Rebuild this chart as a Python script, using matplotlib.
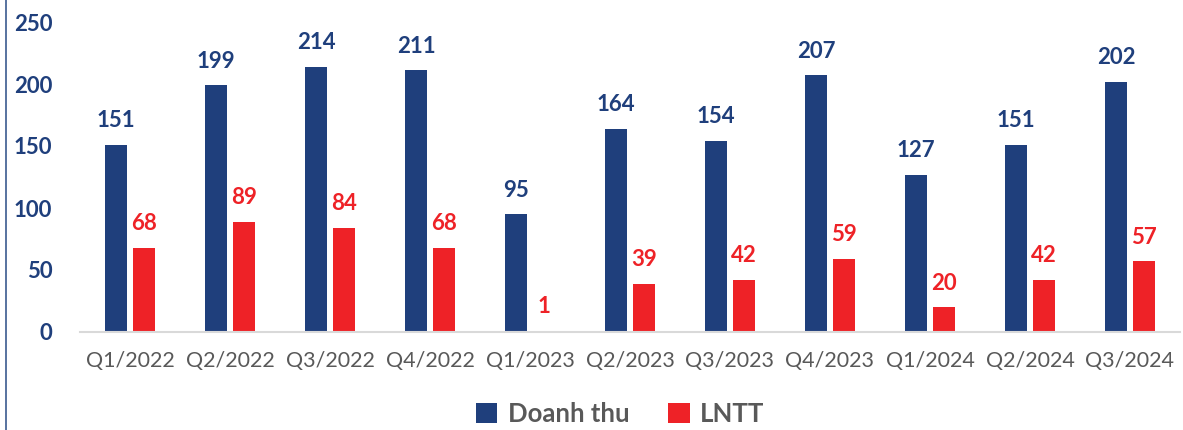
import numpy as np
import matplotlib.pyplot as plt
from matplotlib.lines import Line2D

plt.rcParams['font.family'] = ['Lato', 'DejaVu Sans']

quy = ["Q1/2022", "Q2/2022", "Q3/2022", "Q4/2022", "Q1/2023", "Q2/2023",
       "Q3/2023", "Q4/2023", "Q1/2024", "Q2/2024", "Q3/2024"]
doanh_thu = [151, 199, 214, 211, 95, 164, 154, 207, 127, 151, 202]
lntt = [68, 89, 84, 68, 1, 39, 42, 59, 20, 42, 57]

xanh = "#1F3F7C"
do = "#EE2227"
xam = "#595959"

fig = plt.figure(figsize=(11.83, 4.3), dpi=100)
ax = fig.add_axes([80/1183, 98/430, 1100/1183, 310/430])

x = np.arange(len(quy))
w = 0.22
b1 = ax.bar(x - 0.14, doanh_thu, w, color=xanh)
b2 = ax.bar(x + 0.14, lntt, w, color=do)

for r, v in zip(b1, doanh_thu):
    ax.text(r.get_x() + r.get_width()/2, v + 11, str(v), ha="center", va="bottom",
            color=xanh, fontsize=16, fontweight="bold")
for r, v in zip(b2, lntt):
    ax.text(r.get_x() + r.get_width()/2, v + 11, str(v), ha="center", va="bottom",
            color=do, fontsize=16, fontweight="bold")

ax.set_xlim(-0.5, len(quy) - 0.5)
ax.set_ylim(0, 250)
ax.set_yticks(range(0, 251, 50))
ax.set_xticks(x)
ax.set_xticklabels(quy, color=xam, fontsize=15.5)
for t in ax.get_yticklabels():
    t.set_color(xanh)
    t.set_fontweight("bold")
    t.set_fontsize(16)
ax.tick_params(length=0)
ax.tick_params(axis="x", pad=14)
ax.tick_params(axis="y", pad=20)
for s in ["top", "right", "left"]:
    ax.spines[s].set_visible(False)
ax.spines["bottom"].set_color("#D9D9D9")
ax.spines["bottom"].set_linewidth(1.5)

# duong vien ben trai
fig.add_artist(Line2D([6/1183, 6/1183], [0, 1], color="#3B5A8F", lw=1.2))

fig.legend([b1, b2], ["Doanh thu", "LNTT"], loc="center", bbox_to_anchor=(620/1183, 1 - 414/430),
           ncol=2, frameon=False, prop={"weight": "bold", "size": 18.5},
           labelcolor=xam, handlelength=0.85, handleheight=0.85, columnspacing=1.5, handletextpad=0.4)

fig.savefig("out.png", dpi=100)
